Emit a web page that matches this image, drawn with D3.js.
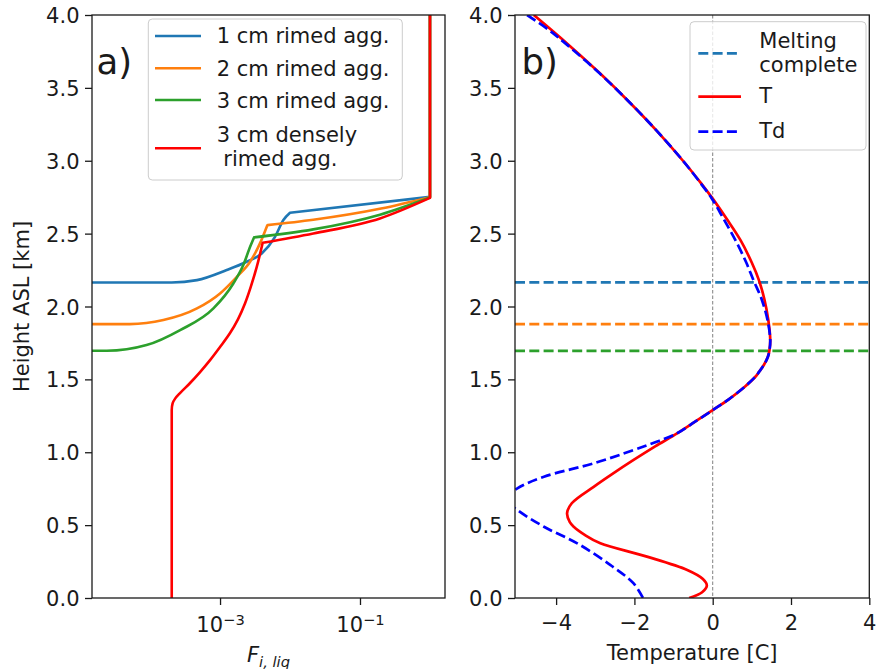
<!DOCTYPE html>
<html>
<head>
<meta charset="utf-8">
<script src="https://cdn.jsdelivr.net/npm/d3@7"></script>
<style>
  body { margin: 0; background: #ffffff; }
  svg { display: block; font-family: "DejaVu Sans", sans-serif; }
</style>
</head>
<body>
<svg id="fig" width="876" height="669"></svg>
<script>
// ---- axis settings ----
const heightLimits = [0, 4];
const heightTicks = [0, 0.5, 1, 1.5, 2, 2.5, 3, 3.5, 4];
const fliqLimits = [1.48e-5, 1.64];
const fliqTicks = [1e-3, 1e-1];
const fliqTickExponents = ["\u22123", "\u22121"];
const tempLimits = [-5.05, 4];
const tempTicks = [-4, -2, 0, 2, 4];

// ---- panel a: liquid fraction profiles, [F_liq, height km] ----
const particleNames = ["1 cm rimed agg.", "2 cm rimed agg.", "3 cm rimed agg.", "3 cm densely\n rimed agg."];
const particleColors = ["#1f77b4", "#ff7f0e", "#2ca02c", "#ff0000"];

// melting layer, up to the point where the particle is fully melted
const fliq1cmLower = [[1e-5, 2.165], [2.04e-4, 2.165], [4.68e-4, 2.181], [1.245e-3, 2.250], [2.40e-3, 2.307],
  [3.94e-3, 2.364], [6.11e-3, 2.478], [8.04e-3, 2.593], [1.0e-2, 2.643]];
const fliq2cmLower = [[1e-5, 1.879], [5.13e-5, 1.879], [1.55e-4, 1.907], [4.68e-4, 1.987], [1.0e-3, 2.09],
  [1.74e-3, 2.204], [2.69e-3, 2.307], [3.72e-3, 2.433], [4.74e-3, 2.558]];
const fliq3cmLower = [[1e-5, 1.696], [2.40e-5, 1.696], [8.91e-5, 1.735], [2.69e-4, 1.838], [8.04e-4, 1.987],
  [1.55e-3, 2.158], [2.15e-3, 2.284], [2.69e-3, 2.41], [3.06e-3, 2.474]];
const fliq3cmDenseLower = [[2.04e-4, 0.0], [2.04e-4, 1.29], [2.10e-4, 1.335], [2.28e-4, 1.368], [2.68e-4, 1.406],
  [3.73e-4, 1.475], [5.18e-4, 1.550], [7.20e-4, 1.632], [1.0e-3, 1.722], [1.39e-3, 1.818], [1.81e-3, 1.914],
  [2.28e-3, 2.023], [2.77e-3, 2.140], [3.34e-3, 2.270], [4.07e-3, 2.437]];

// from the kink up to the 0 degC level, then the dry snow above it
const fliq1cmUpper = [[1.0e-2, 2.643], [1.0, 2.752], [1.0, 4.0]];
const fliq2cmUpper = [[4.74e-3, 2.558], [2.15e-2, 2.595], [0.2, 2.672], [1.0, 2.75], [1.0, 4.0]];
const fliq3cmUpper = [[3.06e-3, 2.474], [2.15e-2, 2.529], [0.193, 2.63], [1.0, 2.748], [1.0, 4.0]];
const fliq3cmDenseUpper = [[4.07e-3, 2.437], [2.15e-2, 2.501], [0.193, 2.604], [1.0, 2.745], [1.0, 4.0]];

// ---- panel b: sounding, [height km, degC] ----
const meltCompleteHeights = [2.165, 1.879, 1.696];
const temperature = [
  [4.0, -4.57], [3.8, -3.70], [3.6, -2.88], [3.4, -2.12], [3.2, -1.41], [3.0, -0.76], [2.85, -0.31],
  [2.74, 0.0], [2.6, 0.36], [2.455, 0.71], [2.3, 1.0], [2.181, 1.18], [2.05, 1.32], [1.907, 1.42],
  [1.77, 1.47], [1.70, 1.45], [1.655, 1.41], [1.60, 1.31], [1.55, 1.18], [1.518, 1.09], [1.45, 0.82],
  [1.363, 0.41], [1.289, 0.0], [1.21, -0.45], [1.13, -0.91], [1.04, -1.47], [0.947, -2.02], [0.85, -2.57],
  [0.763, -3.04], [0.65, -3.6], [0.581, -3.72], [0.52, -3.65], [0.489, -3.55], [0.43, -3.25], [0.375, -2.87],
  [0.284, -1.68], [0.192, -0.65], [0.13, -0.25], [0.085, -0.15], [0.04, -0.27], [0.0, -0.6]
];
const dewpoint = [
  [4.0, -4.74], [3.9, -4.2], [3.8, -3.74], [3.6, -2.89], [3.4, -2.12], [3.2, -1.41], [3.0, -0.76],
  [2.85, -0.32], [2.74, -0.02], [2.6, 0.28], [2.455, 0.58], [2.3, 0.86], [2.181, 1.04], [2.05, 1.25],
  [1.907, 1.40], [1.77, 1.47], [1.70, 1.45], [1.655, 1.41], [1.60, 1.31], [1.55, 1.18], [1.518, 1.09],
  [1.45, 0.82], [1.363, 0.41], [1.289, 0.0], [1.21, -0.45], [1.13, -0.91], [1.07, -1.45], [1.015, -2.02],
  [0.924, -3.04], [0.832, -4.31], [0.752, -4.99], [0.68, -5.3], [0.604, -4.99], [0.489, -4.31],
  [0.375, -3.46], [0.226, -2.61], [0.1, -2.02], [0.0, -1.78]
];
const profileNames = ["Melting\ncomplete", "T", "Td"];

// ---- layout ----
const svg = d3.select("#fig");
const ink = "#1a1a1a";
const fs = 21;
const plotTop = 15, plotBottom = 598;
const panelA = { x0: 92, x1: 445 };
const panelB = { x0: 515, x1: 869.3 };

const y = d3.scaleLinear(heightLimits, [plotBottom, plotTop]);
const xF = d3.scaleLog(fliqLimits, [panelA.x0, panelA.x1]);
const xT = d3.scaleLinear(tempLimits, [panelB.x0, panelB.x1]);

const defs = svg.append("defs");
[["clipA", panelA], ["clipB", panelB]].forEach(([id, p]) => {
  defs.append("clipPath").attr("id", id).append("rect")
    .attr("x", p.x0).attr("y", plotTop).attr("width", p.x1 - p.x0).attr("height", plotBottom - plotTop);
});

function styleAxis(g) {
  g.attr("font-size", fs).attr("font-family", "DejaVu Sans").attr("fill", null);
  g.select(".domain").remove();
  g.selectAll(".tick line").attr("stroke", ink).attr("stroke-width", 1.3);
  g.selectAll(".tick text").attr("fill", ink);
}

function heightAxis(x0) {
  const g = svg.append("g").attr("transform", `translate(${x0},0)`)
    .call(d3.axisLeft(y).tickValues(heightTicks).tickFormat(d3.format(".1f")).tickSize(7).tickPadding(5.5));
  styleAxis(g);
  g.selectAll(".tick text").attr("dy", "0.36em");
}

function spines(p) {
  svg.append("rect").attr("x", p.x0).attr("y", plotTop)
    .attr("width", p.x1 - p.x0).attr("height", plotBottom - plotTop)
    .attr("fill", "none").attr("stroke", ink).attr("stroke-width", 1.3);
}

// ---- panel a ----
const gA = svg.append("g").attr("clip-path", "url(#clipA)");
const lineA = (curve) => d3.line().x(d => xF(d[0])).y(d => y(d[1])).curve(curve);

function fliqPath(lower, upper, lowerCurve) {
  const lo = lineA(lowerCurve)(lower);
  const smooth = upper.slice(0, -1);
  const up = lineA(smooth.length > 2 ? d3.curveMonotoneX : d3.curveLinear)(smooth);
  const top = upper[upper.length - 1];
  return lo + up.replace(/^M/, "L") + `L${xF(top[0])},${y(top[1])}`;
}

const fliqSeries = [
  [fliq1cmLower, fliq1cmUpper, d3.curveMonotoneX],
  [fliq2cmLower, fliq2cmUpper, d3.curveMonotoneX],
  [fliq3cmLower, fliq3cmUpper, d3.curveMonotoneX],
  [fliq3cmDenseLower, fliq3cmDenseUpper, d3.curveMonotoneY]
];
fliqSeries.forEach(([lo, up, c], i) => {
  gA.append("path").attr("d", fliqPath(lo, up, c))
    .attr("fill", "none").attr("stroke", particleColors[i]).attr("stroke-width", 2.6)
    .attr("stroke-linejoin", "round");
});

spines(panelA);
heightAxis(panelA.x0);

const gxA = svg.append("g").attr("transform", `translate(0,${plotBottom})`)
  .call(d3.axisBottom(xF).tickValues(fliqTicks).tickFormat(() => "").tickSize(7));
styleAxis(gxA);
gxA.selectAll(".tick text").each(function (d, i) {
  const t = d3.select(this).attr("y", 33.7).attr("dy", 0).attr("text-anchor", "middle");
  t.append("tspan").text("10");
  t.append("tspan").attr("font-size", fs * 0.7).attr("dy", -6.5).text(fliqTickExponents[i]);
});

svg.append("text").attr("x", (panelA.x0 + panelA.x1) / 2).attr("y", 662)
  .attr("text-anchor", "middle").attr("font-size", fs).attr("fill", ink)
  .call(t => {
    t.append("tspan").attr("font-style", "italic").text("F");
    t.append("tspan").attr("font-style", "italic").attr("font-size", fs * 0.7).attr("dy", 4.5).text("i, liq");
  });

svg.append("text").attr("transform", `translate(28.5,${(plotTop + plotBottom) / 2}) rotate(-90)`)
  .attr("text-anchor", "middle").attr("font-size", fs).attr("fill", ink).text("Height ASL [km]");

svg.append("text").attr("x", 96.5).attr("y", 73.5).attr("font-size", 35.5).attr("fill", ink).text("a)");

// legend a
const legA = svg.append("g");
legA.append("rect").attr("x", 148.3).attr("y", 19).attr("width", 254).attr("height", 161).attr("rx", 4)
  .attr("fill", "#fff").attr("fill-opacity", 0.8).attr("stroke", "#cccccc").attr("stroke-width", 1);
const legARows = [
  { line: 36, base: [43.3] },
  { line: 68.3, base: [75.5] },
  { line: 100, base: [107.7] },
  { line: 148.3, base: [141.7, 165.7] }
];
particleNames.forEach((name, i) => {
  const r = legARows[i];
  legA.append("line").attr("x1", 155).attr("x2", 201).attr("y1", r.line).attr("y2", r.line)
    .attr("stroke", particleColors[i]).attr("stroke-width", 2.6);
  name.split("\n").forEach((part, j) => {
    legA.append("text").attr("x", 216.7).attr("y", r.base[j]).attr("font-size", fs).attr("fill", ink)
      .style("white-space", "pre").text(part);
  });
});

// ---- panel b ----
const gB = svg.append("g").attr("clip-path", "url(#clipB)");
gB.append("line").attr("x1", xT(0)).attr("x2", xT(0)).attr("y1", plotTop).attr("y2", plotBottom)
  .attr("stroke", "#808080").attr("stroke-width", 1).attr("stroke-dasharray", "3.5,2");
meltCompleteHeights.forEach((h, i) => {
  gB.append("line").attr("x1", panelB.x0).attr("x2", panelB.x1).attr("y1", y(h)).attr("y2", y(h))
    .attr("stroke", particleColors[i]).attr("stroke-width", 2.7).attr("stroke-dasharray", "10,4.3");
});
const lineB = d3.line().x(d => xT(d[1])).y(d => y(d[0])).curve(d3.curveCatmullRom.alpha(0.5));
gB.append("path").attr("d", lineB(temperature)).attr("fill", "none")
  .attr("stroke", "#ff0000").attr("stroke-width", 2.7);
gB.append("path").attr("d", lineB(dewpoint)).attr("fill", "none")
  .attr("stroke", "#0000ff").attr("stroke-width", 2.7).attr("stroke-dasharray", "10,4.3");

spines(panelB);
heightAxis(panelB.x0);

const gxB = svg.append("g").attr("transform", `translate(0,${plotBottom})`)
  .call(d3.axisBottom(xT).tickValues(tempTicks).tickFormat(d => d < 0 ? "\u2212" + Math.abs(d) : String(d)).tickSize(7));
styleAxis(gxB);
gxB.selectAll(".tick text").attr("y", 32).attr("dy", 0);

svg.append("text").attr("x", (panelB.x0 + panelB.x1) / 2).attr("y", 660)
  .attr("text-anchor", "middle").attr("font-size", fs).attr("fill", ink).text("Temperature [C]");

svg.append("text").attr("x", 521.5).attr("y", 73.5).attr("font-size", 35.5).attr("fill", ink).text("b)");

// legend b
const legB = svg.append("g");
legB.append("rect").attr("x", 690).attr("y", 21.7).attr("width", 176).attr("height", 128.3).attr("rx", 4)
  .attr("fill", "#fff").attr("fill-opacity", 0.8).attr("stroke", "#cccccc").attr("stroke-width", 1);
const legBRows = [
  { line: 53.3, base: [48.3, 71.7], color: particleColors[0], dash: "10,4.3" },
  { line: 96.7, base: [103.3], color: "#ff0000", dash: null },
  { line: 131.7, base: [138.3], color: "#0000ff", dash: "10,4.3" }
];
profileNames.forEach((name, i) => {
  const r = legBRows[i];
  legB.append("line").attr("x1", 698.3).attr("x2", 741).attr("y1", r.line).attr("y2", r.line)
    .attr("stroke", r.color).attr("stroke-width", 2.7).attr("stroke-dasharray", r.dash);
  name.split("\n").forEach((part, j) => {
    legB.append("text").attr("x", 759.3).attr("y", r.base[j]).attr("font-size", fs).attr("fill", ink).text(part);
  });
});
</script>
</body>
</html>
